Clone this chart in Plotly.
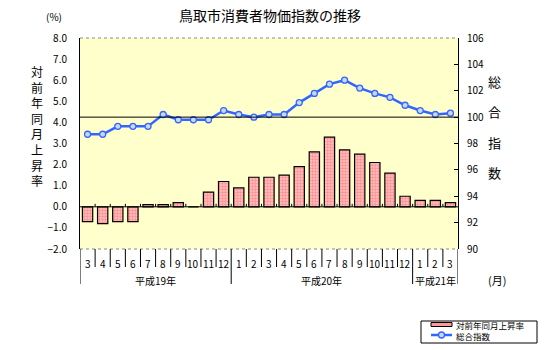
import plotly.graph_objects as go

# Month labels (平成19年3月 – 平成21年3月)
months = ["3", "4", "5", "6", "7", "8", "9", "10", "11", "12",
          "1", "2", "3", "4", "5", "6", "7", "8", "9", "10", "11", "12",
          "1", "2", "3"]
years = ["平成19年", "平成20年", "平成21年"]
year_counts = [10, 12, 3]

# 対前年同月上昇率 (%)
rate = [-0.7, -0.8, -0.7, -0.7, 0.1, 0.1, 0.2, 0.0, 0.7, 1.2,
        0.9, 1.4, 1.4, 1.5, 1.9, 2.6, 3.3, 2.7, 2.5, 2.1, 1.6, 0.5,
        0.3, 0.3, 0.2]

# 総合指数 (平成17年=100)
index = [98.7, 98.7, 99.3, 99.3, 99.3, 100.2, 99.8, 99.8, 99.8, 100.5,
         100.2, 100.0, 100.2, 100.2, 101.1, 101.8, 102.5, 102.8, 102.2, 101.8,
         101.5, 100.9, 100.5, 100.2, 100.3]

W, H = 548, 350
L, R, T, B = 80, 458, 38, 249  # plot area in pixels


def px(x):
    return (x - L) / (R - L)


def py(y):
    return (B - y) / (B - T)


FONT = "Noto Sans CJK JP"
xs = list(range(len(months)))

fig = go.Figure()

fig.add_trace(go.Bar(
    x=xs, y=rate, name="対前年同月上昇率", yaxis="y", width=0.68,
    marker=dict(color="#FF9999", line=dict(color="black", width=1.2),
                pattern=dict(shape=".", fgcolor="#FF5A5A", bgcolor="#FFC4C4",
                             size=3, solidity=0.5)),
    showlegend=False,
))

fig.add_trace(go.Scatter(
    x=xs, y=index, name="総合指数", yaxis="y2", mode="lines+markers",
    line=dict(color="#3366FF", width=2.5),
    marker=dict(symbol="circle", size=6, color="#C8D8FF",
                line=dict(color="#3366FF", width=1.3)),
    showlegend=False,
))

shapes = []
# zero line and 100 reference line
shapes.append(dict(type="line", xref="paper", yref="y", x0=0, x1=1, y0=0, y1=0,
                   line=dict(color="black", width=1)))
shapes.append(dict(type="line", xref="paper", yref="y2", x0=0, x1=1, y0=100, y1=100,
                   line=dict(color="black", width=1)))
# dotted top and bottom borders
for yy in (0, 1):
    shapes.append(dict(type="line", xref="paper", yref="paper", x0=0, x1=1, y0=yy, y1=yy,
                       line=dict(color="#888888", width=1, dash="dot")))

# category separators below the plot and tick marks on the zero line
year_edges = {-0.5}
acc = -0.5
for c in year_counts:
    acc += c
    year_edges.add(acc)
for k in range(len(months) + 1):
    xb = k - 0.5
    long = xb in year_edges
    shapes.append(dict(type="line", xref="x", yref="paper", x0=xb, x1=xb,
                       y0=0, y1=py(284 if long else 267),
                       line=dict(color="black", width=1)))
    if 0 < k < len(months):
        shapes.append(dict(type="line", xref="x", yref="y", x0=xb, x1=xb,
                           y0=0, y1=0.14, line=dict(color="black", width=1)))


def label(x, y, text, size, xref="paper", xanchor="center", pad=1):
    return dict(x=x, y=y, xref=xref, yref="paper", text=text, showarrow=False,
                xanchor=xanchor, yanchor="middle", borderpad=pad,
                font=dict(size=size, family=FONT, color="black"))


annotations = []
for i, m in enumerate(months):
    annotations.append(label(i, py(263), m, 10, xref="x"))
start = -0.5
for name, c in zip(years, year_counts):
    annotations.append(label(start + c / 2, py(280), name, 10, xref="x"))
    start += c

annotations.append(label(px(270), py(15), "鳥取市消費者物価指数の推移", 14))
annotations.append(label(px(54), py(17), "(%)", 10))
annotations.append(label(px(497), py(280), "(月)", 11))

# vertical axis titles, one character per line
left_title = "対前年同月上昇率"
annotations.append(label(px(37), py(126), "<br>".join(left_title), 12))
right_title = "総合指数"
for j, ch in enumerate(right_title):
    annotations.append(label(px(494), py(81 + 30.5 * j), ch, 13))

# legend box
shapes.append(dict(type="rect", xref="paper", yref="paper",
                   x0=px(421), x1=px(537), y0=py(321), y1=py(343),
                   line=dict(color="black", width=1), fillcolor="white"))
shapes.append(dict(type="rect", xref="paper", yref="paper",
                   x0=px(431), x1=px(452), y0=py(322.5), y1=py(326.5),
                   line=dict(color="black", width=1), fillcolor="#FF9999"))
shapes.append(dict(type="line", xref="paper", yref="paper",
                   x0=px(431), x1=px(452), y0=py(335), y1=py(335),
                   line=dict(color="#3366FF", width=2.5)))
shapes.append(dict(type="circle", xref="paper", yref="paper",
                   x0=px(438.5), x1=px(444.5), y0=py(332), y1=py(338),
                   line=dict(color="#3366FF", width=1.3), fillcolor="#C8D8FF"))
annotations.append(label(px(455), py(324.5), "対前年同月上昇率", 8.5, xanchor="left", pad=0))
annotations.append(label(px(455), py(336), "総合指数", 8.5, xanchor="left", pad=0))

fig.update_layout(
    width=W, height=H,
    margin=dict(l=L, r=W - R, t=T, b=H - B, pad=0),
    paper_bgcolor="white", plot_bgcolor="#FFFFCC",
    font=dict(family=FONT, size=10, color="black"),
    bargap=0.32,
    xaxis=dict(range=[-0.5, len(months) - 0.5], showticklabels=False, showgrid=False,
               zeroline=False, showline=False, ticks="", fixedrange=True),
    yaxis=dict(range=[-2, 8], dtick=1, tickformat=".1f", showgrid=False, zeroline=False,
               showline=True, linecolor="black", linewidth=1, ticks="",
               ticklabelstandoff=10, tickfont=dict(size=10, family=FONT)),
    yaxis2=dict(range=[90, 106], dtick=2, overlaying="y", side="right", showgrid=False,
                zeroline=False, showline=True, linecolor="black", linewidth=1,
                ticks="inside", ticklen=4, tickcolor="black",
                ticklabelstandoff=6, tickfont=dict(size=10, family=FONT)),
    shapes=shapes,
    annotations=annotations,
    showlegend=False,
)

fig.write_html("out.html")
